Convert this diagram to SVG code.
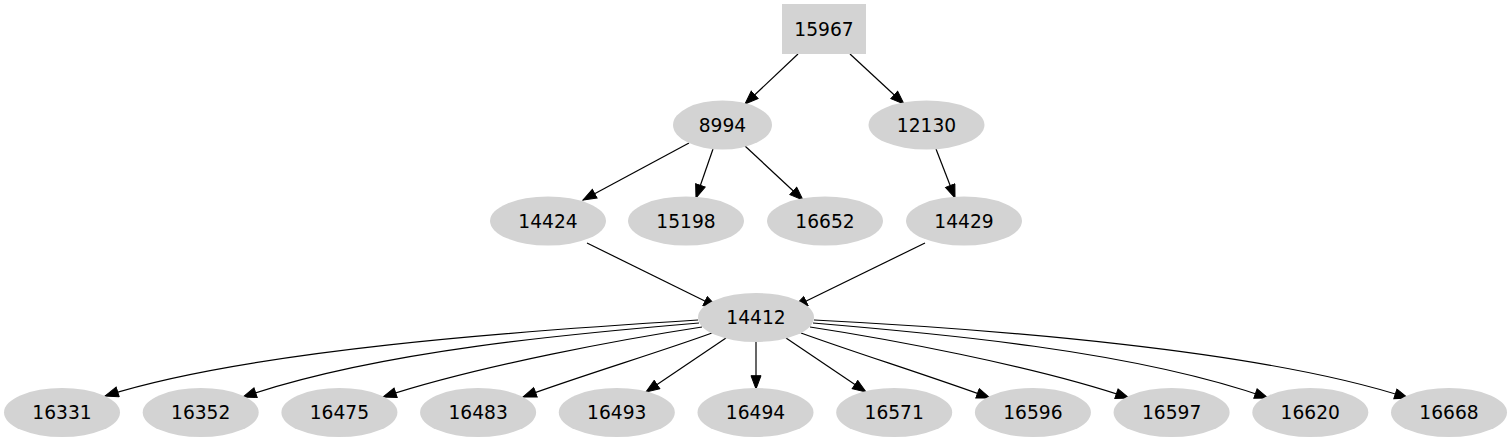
<svg xmlns="http://www.w3.org/2000/svg" width="1512" height="443" viewBox="0 0 1512 443">
<style>
.n{fill:#d3d3d3;stroke:none}
.t{font-family:"DejaVu Sans",sans-serif;font-size:18.67px;fill:#000;text-anchor:middle}
.e{fill:none;stroke:#000;stroke-width:1.2;marker-end:url(#ah)}
</style>
<defs>
<marker id="ah" markerUnits="userSpaceOnUse" markerWidth="17" markerHeight="13" refX="14" refY="5.7" orient="auto">
<path d="M0.7,0.7 L14,5.7 L0.7,10.7 z" fill="#000" stroke="#000" stroke-width="1"/>
</marker>
</defs>
<g id="edges">
<path class="e" d="M798,54 L745,104"/>
<path class="e" d="M850,54 L904,104"/>
<path class="e" d="M689,143 L583,200"/>
<path class="e" d="M713,149 L696,198"/>
<path class="e" d="M745,146 L803,200"/>
<path class="e" d="M936,149 L955,198"/>
<path class="e" d="M587,243 L717,307"/>
<path class="e" d="M925,243 L794,307"/>
<path class="e" d="M698,320 C520,331 250,350 105,396"/>
<path class="e" d="M699,323 C580,333 380,350 243,397"/>
<path class="e" d="M702,327 C630,338 480,365 383,397"/>
<path class="e" d="M712,333 C660,352 580,376 523,397"/>
<path class="e" d="M726,338 L646,392"/>
<path class="e" d="M756,342 L756,389"/>
<path class="e" d="M786,338 L866,392"/>
<path class="e" d="M801,333 C853,352 933,377 990,398"/>
<path class="e" d="M810,327 C882,338 1032,365 1129,398"/>
<path class="e" d="M813,323 C932,333 1132,350 1268,398"/>
<path class="e" d="M814,320 C992,329 1262,350 1408,398"/>
</g>
<g id="n15967"><rect class="n" x="782" y="4" width="84" height="50"/><text class="t" x="824" y="35.5">15967</text></g>
<g id="n8994"><ellipse class="n" cx="722.5" cy="125" rx="49.5" ry="24.5"/><text class="t" x="722.5" y="131.5">8994</text></g>
<g id="n12130"><ellipse class="n" cx="926.5" cy="125" rx="58" ry="24.5"/><text class="t" x="926.5" y="131.5">12130</text></g>
<g id="n14424"><ellipse class="n" cx="548" cy="221" rx="58" ry="24.5"/><text class="t" x="548" y="227.5">14424</text></g>
<g id="n15198"><ellipse class="n" cx="686" cy="221" rx="58" ry="24.5"/><text class="t" x="686" y="227.5">15198</text></g>
<g id="n16652"><ellipse class="n" cx="825" cy="221" rx="58" ry="24.5"/><text class="t" x="825" y="227.5">16652</text></g>
<g id="n14429"><ellipse class="n" cx="964" cy="221" rx="58" ry="24.5"/><text class="t" x="964" y="227.5">14429</text></g>
<g id="n14412"><ellipse class="n" cx="756" cy="317.5" rx="58" ry="24.5"/><text class="t" x="756" y="324">14412</text></g>
<g id="n16331"><ellipse class="n" cx="62" cy="412.5" rx="58" ry="24.5"/><text class="t" x="62" y="419">16331</text></g>
<g id="n16352"><ellipse class="n" cx="200.7" cy="412.5" rx="58" ry="24.5"/><text class="t" x="200.7" y="419">16352</text></g>
<g id="n16475"><ellipse class="n" cx="339.4" cy="412.5" rx="58" ry="24.5"/><text class="t" x="339.4" y="419">16475</text></g>
<g id="n16483"><ellipse class="n" cx="478.1" cy="412.5" rx="58" ry="24.5"/><text class="t" x="478.1" y="419">16483</text></g>
<g id="n16493"><ellipse class="n" cx="616.8" cy="412.5" rx="58" ry="24.5"/><text class="t" x="616.8" y="419">16493</text></g>
<g id="n16494"><ellipse class="n" cx="755.5" cy="412.5" rx="58" ry="24.5"/><text class="t" x="755.5" y="419">16494</text></g>
<g id="n16571"><ellipse class="n" cx="894.2" cy="412.5" rx="58" ry="24.5"/><text class="t" x="894.2" y="419">16571</text></g>
<g id="n16596"><ellipse class="n" cx="1032.9" cy="412.5" rx="58" ry="24.5"/><text class="t" x="1032.9" y="419">16596</text></g>
<g id="n16597"><ellipse class="n" cx="1171.6" cy="412.5" rx="58" ry="24.5"/><text class="t" x="1171.6" y="419">16597</text></g>
<g id="n16620"><ellipse class="n" cx="1310.3" cy="412.5" rx="58" ry="24.5"/><text class="t" x="1310.3" y="419">16620</text></g>
<g id="n16668"><ellipse class="n" cx="1449" cy="412.5" rx="58" ry="24.5"/><text class="t" x="1449" y="419">16668</text></g>
</svg>
